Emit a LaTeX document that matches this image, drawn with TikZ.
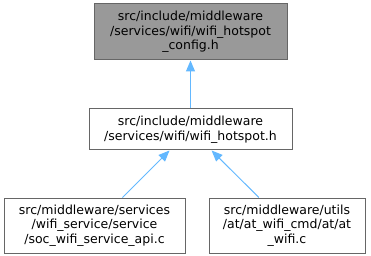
\documentclass[tikz,border=0pt]{standalone}
\usepackage{fontspec}
\setmainfont{DejaVu Sans}
\usetikzlibrary{positioning, arrows.meta}

\definecolor{edgeblue}{HTML}{63B8FF}
\definecolor{boxgray}{HTML}{999999}
\definecolor{framegray}{HTML}{666666}

\begin{document}
\begin{tikzpicture}[
	x=1pt, y=1pt,
	file/.style={rectangle, draw=framegray, line width=1pt, fill=white, inner sep=0pt, align=center, font=\fontsize{12.5}{14.5}\selectfont},
	link/.style={draw=edgeblue, line width=1pt, -{Triangle[length=11pt, width=9pt]}},
]
	\useasboundingbox (0,0) rectangle (371,-256);

	% Documented header (highlighted)
	\node[file, fill=boxgray, minimum width=193pt, minimum height=56pt] (config) at (190.5,-32)
		{src/include/middleware\\/services/wifi/wifi\_hotspot\\\_config.h};

	% Including header
	\node[file, minimum width=203pt, minimum height=41pt, below=48pt of config] (hotspot)
		{src/include/middleware\\/services/wifi/wifi\_hotspot.h};

	% Source files
	\node[file, minimum width=181pt, minimum height=55pt, below=47pt of hotspot, xshift=-96pt] (socapi)
		{src/middleware/services\\/wifi\_service/service\\/soc\_wifi\_service\_api.c};
	\node[file, minimum width=156pt, minimum height=55pt, below=47pt of hotspot, xshift=96.5pt] (atwifi)
		{src/middleware/utils\\/at/at\_wifi\_cmd/at/at\\\_wifi.c};

	% Include edges
	\draw[link] (hotspot) -- (config);
	\draw[link] (socapi) -- (hotspot);
	\draw[link] (atwifi) -- (hotspot);
\end{tikzpicture}
\end{document}
